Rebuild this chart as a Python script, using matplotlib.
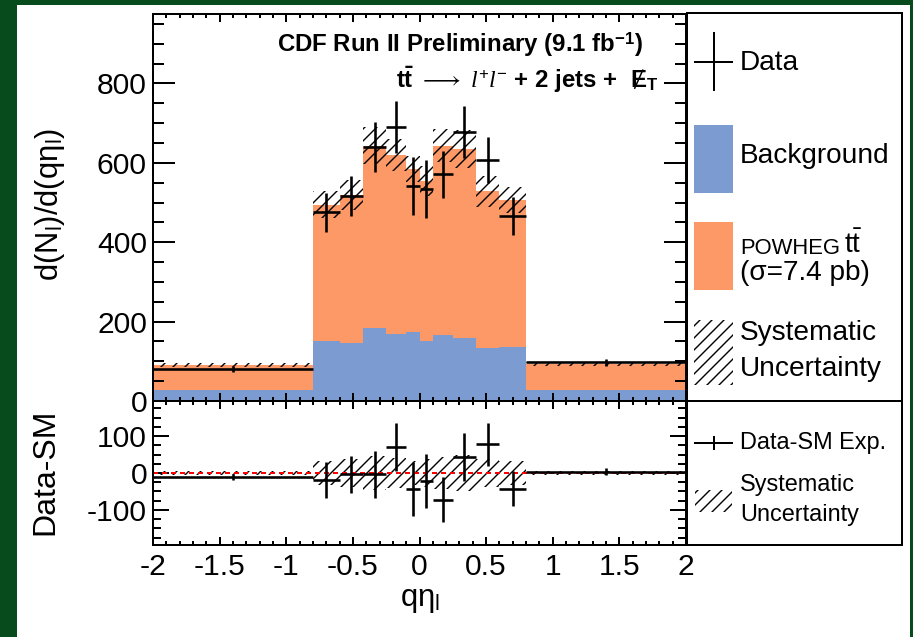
import matplotlib

matplotlib.use("Agg")
import matplotlib.pyplot as plt
import numpy as np
from matplotlib.lines import Line2D
from matplotlib.patches import Rectangle
from matplotlib.ticker import FuncFormatter, MultipleLocator

plt.rcParams.update({
    "font.family": ["Liberation Sans", "DejaVu Sans"],
    "mathtext.fontset": "custom",
    "mathtext.rm": "Liberation Sans",
    "mathtext.it": "Liberation Serif:italic",
    "mathtext.bf": "Liberation Sans:bold",
    "axes.unicode_minus": False,
    "hatch.linewidth": 1.4,
})

# q*eta binning and contents (events per unit q*eta)
edges = np.array([-2.0, -0.8, -0.6, -0.425, -0.25, -0.1, 0.0,
                  0.1, 0.25, 0.425, 0.6, 0.8, 2.0])
background = np.array([28, 150, 147, 184, 168, 175, 150, 167, 158, 133, 136, 28])
ttbar = np.array([63, 345, 373, 459, 452, 410, 404, 476, 477, 395, 371, 65])
syst = np.array([5, 33, 38, 47, 40, 32, 38, 42, 49, 38, 33, 5])
data = np.array([81, 475, 516, 639, 691, 541, 533, 571, 678, 606, 465, 97])
data_err = np.array([8, 49, 51, 63, 65, 73, 73, 60, 65, 58, 48, 9])

BLUE = "#7b9bd1"
ORANGE = "#fd9966"
GREEN = "#074b1d"
HATCH = "//"

W, H = 913, 637
centers = 0.5 * (edges[:-1] + edges[1:])
widths = np.diff(edges)
total = background + ttbar
resid = data - total


def box(x0, y0, x1, y1):
    """Figure rectangle from pixel corners (top-left origin)."""
    return [x0 / W, 1 - y1 / H, (x1 - x0) / W, (y1 - y0) / H]


fig = plt.figure(figsize=(W / 72, H / 72), dpi=72)
fig.patch.set_facecolor(GREEN)
fig.add_artist(Rectangle((17 / W, 0), (910 - 17) / W, (H - 5) / H,
                         transform=fig.transFigure, facecolor="white",
                         edgecolor="none", zorder=-5))

ax = fig.add_axes(box(153, 14, 686, 401))
axr = fig.add_axes(box(153, 401, 686, 545))

# stacked prediction
ax.stairs(total, edges, fill=True, color=ORANGE, zorder=1)
ax.stairs(background, edges, fill=True, color=BLUE, zorder=1.1)
ax.bar(centers, 2 * syst, width=widths, bottom=total - syst, fill=False,
       hatch=HATCH, edgecolor="black", linewidth=0, zorder=2)
ax.errorbar(centers, data, xerr=widths / 2, yerr=data_err, fmt="none",
            ecolor="black", elinewidth=2.6, capsize=0, zorder=3)

# residual panel
axr.bar(centers, 2 * syst, width=widths, bottom=-syst, fill=False,
        hatch=HATCH, edgecolor="black", linewidth=0, zorder=2)
axr.axhline(0, color="red", lw=2, ls=(0, (2.5, 2)), zorder=2.5)
axr.errorbar(centers, resid, xerr=widths / 2, yerr=data_err, fmt="none",
             ecolor="black", elinewidth=2.6, capsize=0, zorder=3)

ax.set_xlim(-2, 2)
ax.set_ylim(0, 975)
axr.set_xlim(-2, 2)
axr.set_ylim(-195, 195)

for a, ymaj, ymin, ylen in ((ax, 200, 50, 22), (axr, 100, 25, 16)):
    a.xaxis.set_major_locator(MultipleLocator(0.5))
    a.xaxis.set_minor_locator(MultipleLocator(0.1))
    a.yaxis.set_major_locator(MultipleLocator(ymaj))
    a.yaxis.set_minor_locator(MultipleLocator(ymin))
    a.tick_params(which="both", direction="in", top=True, right=True,
                  width=2, labelsize=30, pad=6)
    a.tick_params(axis="x", which="major", length=8)
    a.tick_params(axis="x", which="minor", length=4)
    a.tick_params(axis="y", which="major", length=ylen)
    a.tick_params(axis="y", which="minor", length=ylen / 2)
    for s in a.spines.values():
        s.set_linewidth(2)
        s.set_zorder(4)

ax.tick_params(axis="x", labelbottom=False)
axr.set_yticks([-100, 0, 100])
axr.tick_params(axis="x", pad=8)
axr.xaxis.set_major_formatter(FuncFormatter(lambda v, p: f"{v:g}"))

ax.text(0.919, 0.922, r"CDF Run II Preliminary (9.1 fb$^{\mathbf{-1}}$)",
        transform=ax.transAxes, ha="right", va="center", fontsize=24,
        fontweight="bold")
chan = ax.text(0.947, 0.829,
               r"$\mathbf{t\bar{t}}$ $\longrightarrow$ $\mathit{l^{+}l^{-}}$"
               r" + 2 jets +  E$_{\mathbf{T}}$",
               transform=ax.transAxes, ha="right", va="center", fontsize=24,
               fontweight="bold")

# slash through the E of missing E_T, placed from the rendered text box
bb = chan.get_window_extent(fig.canvas.get_renderer())
ex, ey = bb.x1 - 19, 0.5 * (bb.y0 + bb.y1) + 1
fig.add_artist(Line2D([(ex - 4) / W, (ex + 4) / W],
                      [(ey - 9) / H, (ey + 9) / H],
                      transform=fig.transFigure, color="black", lw=1.5))

fig.text(50 / W, 1 - 205 / H, r"d(N$_{\mathrm{l}}$)/d(qη$_{\mathrm{l}}$)",
         rotation=90, ha="center", va="center", fontsize=31)
fig.text(45 / W, 1 - 472 / H, "Data-SM", rotation=90, ha="center",
         va="center", fontsize=32)
fig.text(420 / W, 1 - 600 / H, r"qη$_{\mathrm{l}}$", ha="center",
         va="center", fontsize=31)

# legend panels, drawn in pixel units of each box
leg = fig.add_axes(box(687, 13, 902, 401))
leg.set_xlim(0, 215)
leg.set_ylim(388, 0)
legr = fig.add_axes(box(687, 401, 902, 545))
legr.set_xlim(0, 215)
legr.set_ylim(144, 0)
for a in (leg, legr):
    a.set_xticks([])
    a.set_yticks([])
    for s in a.spines.values():
        s.set_linewidth(2)

leg.add_line(Line2D([8, 45], [49, 49], color="black", lw=2))
leg.add_line(Line2D([26.5, 26.5], [20, 77], color="black", lw=2))
leg.text(53, 50, "Data", va="center", fontsize=28)
leg.add_patch(Rectangle((7, 112), 39, 68, facecolor=BLUE, edgecolor="none"))
leg.text(53, 143, "Background", va="center", fontsize=28)
leg.add_patch(Rectangle((7, 209), 39, 68, facecolor=ORANGE, edgecolor="none"))
pw = leg.text(53, 241, "POWHEG", va="baseline", fontsize=22)
leg.annotate(r"t$\bar{\mathrm{t}}$", xy=(1, 0), xycoords=pw, xytext=(4, 0),
             textcoords="offset points", va="bottom", fontsize=28)
leg.text(53, 260, "(σ=7.4 pb)", va="center", fontsize=28)
leg.add_patch(Rectangle((7, 307), 39, 65, fill=False, hatch=HATCH,
                        edgecolor="black", linewidth=0))
leg.text(53, 320, "Systematic", va="center", fontsize=28)
leg.text(53, 356, "Uncertainty", va="center", fontsize=28)

legr.add_line(Line2D([8, 45], [42, 42], color="black", lw=2))
legr.add_line(Line2D([26.5, 26.5], [36, 48], color="black", lw=2))
legr.text(53, 42, "Data-SM Exp.", va="center", fontsize=23.5)
legr.add_patch(Rectangle((8, 89), 37, 22, fill=False, hatch=HATCH,
                         edgecolor="black", linewidth=0))
legr.text(53, 84, "Systematic", va="center", fontsize=23.5)
legr.text(53, 114, "Uncertainty", va="center", fontsize=23.5)

fig.savefig("out.png", dpi=72, facecolor=fig.get_facecolor())
